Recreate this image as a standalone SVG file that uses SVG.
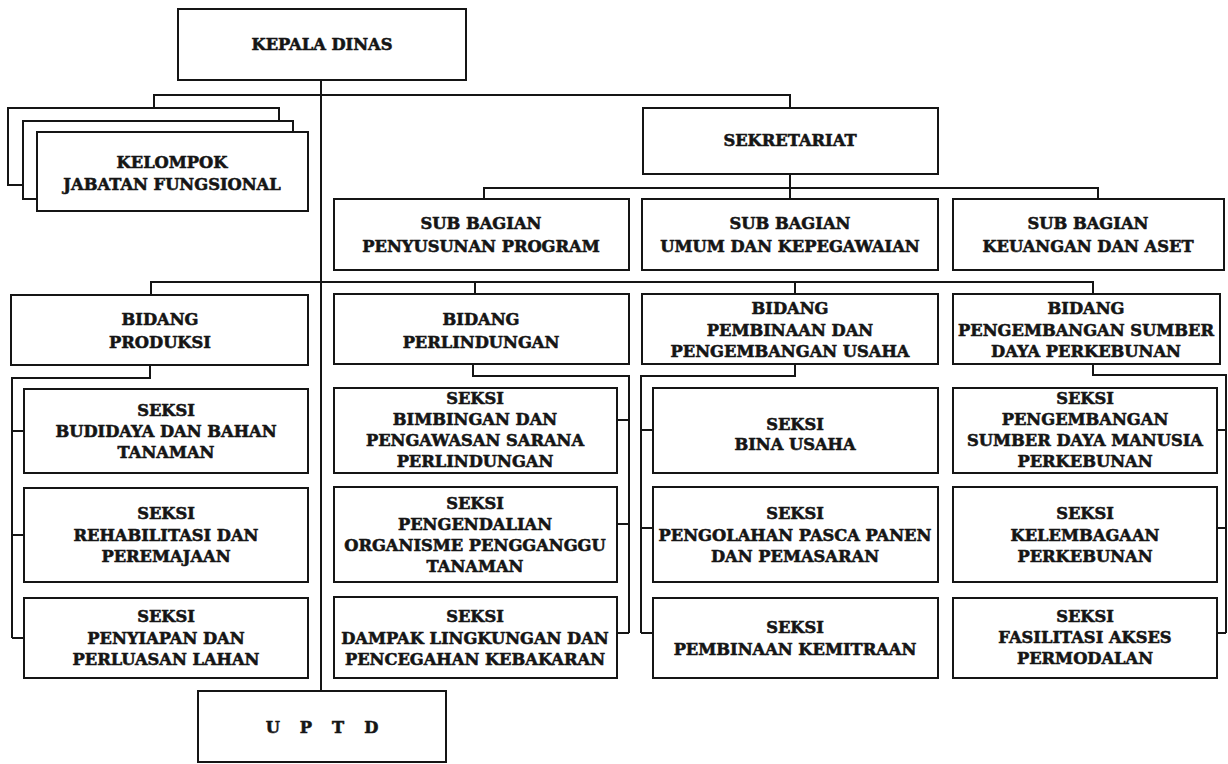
<svg xmlns="http://www.w3.org/2000/svg" width="1228" height="764" viewBox="0 0 1228 764">
<style>
.b{fill:#fff;stroke:#151515;stroke-width:2}
.c{fill:none;stroke:#151515;stroke-width:2}
.t{font-family:"DejaVu Serif","Liberation Serif",serif;font-weight:bold;font-size:16.3px;text-anchor:middle;fill:#151515;stroke:#151515;stroke-width:0.6px}
</style>
<rect width="1228" height="764" fill="#fff"/>
<g id="connectors">
<path class="c" d="M321 80V691"/>
<path class="c" d="M154 108V95H790V108"/>
<path class="c" d="M790 174V188M484 199V188H1098V199M790 188V200"/>
<path class="c" d="M151 295V282H1093V294M475 282V294M795 282V294"/>
<path class="c" d="M150 365V378H12V638M12 431H24M12 535H24M12 638H24"/>
<path class="c" d="M473 364V376H629V633M617 420H629M617 524H629M617 633H629"/>
<path class="c" d="M795 364V376H641V633M641 430H653M641 528H653M641 633H653"/>
<path class="c" d="M1093 364V375H1226V633M1217 430H1226M1217 528H1226M1217 633H1226"/>
</g>
<g id="kepala"><rect class="b" x="178" y="9" width="288" height="71"/><text class="t" x="322" y="50">KEPALA DINAS</text></g>
<g id="kelompok">
<rect class="b" x="8" y="108" width="271" height="77"/>
<rect class="b" x="23" y="121" width="270" height="78"/>
<rect class="b" x="37" y="132" width="271" height="79"/>
<text class="t" x="172" y="168">KELOMPOK</text><text class="t" x="172" y="190">JABATAN FUNGSIONAL</text>
</g>
<g id="sekretariat"><rect class="b" x="643" y="108" width="295" height="66"/><text class="t" x="790" y="146">SEKRETARIAT</text></g>
<g id="sub-program"><rect class="b" x="334" y="199" width="295" height="71"/><text class="t" x="481" y="229">SUB BAGIAN</text><text class="t" x="481" y="252">PENYUSUNAN PROGRAM</text></g>
<g id="sub-umum"><rect class="b" x="642" y="199" width="296" height="71"/><text class="t" x="790" y="229">SUB BAGIAN</text><text class="t" x="790" y="252">UMUM DAN KEPEGAWAIAN</text></g>
<g id="sub-keuangan"><rect class="b" x="953" y="199" width="271" height="71"/><text class="t" x="1088" y="229">SUB BAGIAN</text><text class="t" x="1088" y="252">KEUANGAN DAN ASET</text></g>
<g id="bidang-produksi"><rect class="b" x="11" y="295" width="297" height="70"/><text class="t" x="160" y="325">BIDANG</text><text class="t" x="160" y="348">PRODUKSI</text></g>
<g id="bidang-perlindungan"><rect class="b" x="334" y="294" width="295" height="70"/><text class="t" x="481" y="325">BIDANG</text><text class="t" x="481" y="348">PERLINDUNGAN</text></g>
<g id="bidang-pembinaan"><rect class="b" x="642" y="294" width="296" height="70"/><text class="t" x="790" y="314">BIDANG</text><text class="t" x="790" y="336">PEMBINAAN DAN</text><text class="t" x="790" y="357">PENGEMBANGAN  USAHA</text></g>
<g id="bidang-pengembangan"><rect class="b" x="953" y="294" width="267" height="70"/><text class="t" x="1086" y="314">BIDANG</text><text class="t" x="1086" y="336">PENGEMBANGAN SUMBER</text><text class="t" x="1086" y="357">DAYA PERKEBUNAN</text></g>
<g id="seksi-budidaya"><rect class="b" x="24" y="389" width="284" height="84"/><text class="t" x="166" y="416">SEKSI</text><text class="t" x="166" y="437">BUDIDAYA DAN BAHAN</text><text class="t" x="166" y="458">TANAMAN</text></g>
<g id="seksi-rehabilitasi"><rect class="b" x="24" y="488" width="284" height="94"/><text class="t" x="166" y="519">SEKSI</text><text class="t" x="166" y="541">REHABILITASI DAN</text><text class="t" x="166" y="562">PEREMAJAAN</text></g>
<g id="seksi-penyiapan"><rect class="b" x="24" y="598" width="284" height="80"/><text class="t" x="166" y="622">SEKSI</text><text class="t" x="166" y="644">PENYIAPAN DAN</text><text class="t" x="166" y="665">PERLUASAN LAHAN</text></g>
<g id="seksi-bimbingan"><rect class="b" x="334" y="388" width="283" height="85"/><text class="t" x="475" y="404">SEKSI</text><text class="t" x="475" y="425">BIMBINGAN DAN</text><text class="t" x="475" y="446">PENGAWASAN SARANA</text><text class="t" x="475" y="467">PERLINDUNGAN</text></g>
<g id="seksi-pengendalian"><rect class="b" x="334" y="487" width="283" height="95"/><text class="t" x="475" y="509">SEKSI</text><text class="t" x="475" y="530">PENGENDALIAN</text><text class="t" x="475" y="551">ORGANISME PENGGANGGU</text><text class="t" x="475" y="572">TANAMAN</text></g>
<g id="seksi-dampak"><rect class="b" x="334" y="597" width="283" height="81"/><text class="t" x="475" y="622">SEKSI</text><text class="t" x="475" y="644">DAMPAK LINGKUNGAN DAN</text><text class="t" x="475" y="665">PENCEGAHAN KEBAKARAN</text></g>
<g id="seksi-bina-usaha"><rect class="b" x="653" y="388" width="285" height="85"/><text class="t" x="795" y="430">SEKSI</text><text class="t" x="795" y="450">BINA USAHA</text></g>
<g id="seksi-pengolahan"><rect class="b" x="653" y="487" width="285" height="95"/><text class="t" x="795" y="519">SEKSI</text><text class="t" x="795" y="541">PENGOLAHAN PASCA PANEN</text><text class="t" x="795" y="562">DAN PEMASARAN</text></g>
<g id="seksi-kemitraan"><rect class="b" x="653" y="598" width="285" height="80"/><text class="t" x="795" y="633">SEKSI</text><text class="t" x="795" y="655">PEMBINAAN KEMITRAAN</text></g>
<g id="seksi-sdm"><rect class="b" x="953" y="388" width="264" height="85"/><text class="t" x="1085" y="404">SEKSI</text><text class="t" x="1085" y="425">PENGEMBANGAN</text><text class="t" x="1085" y="446">SUMBER DAYA MANUSIA</text><text class="t" x="1085" y="467">PERKEBUNAN</text></g>
<g id="seksi-kelembagaan"><rect class="b" x="953" y="487" width="264" height="95"/><text class="t" x="1085" y="519">SEKSI</text><text class="t" x="1085" y="541">KELEMBAGAAN</text><text class="t" x="1085" y="562">PERKEBUNAN</text></g>
<g id="seksi-fasilitasi"><rect class="b" x="953" y="598" width="264" height="80"/><text class="t" x="1085" y="622">SEKSI</text><text class="t" x="1085" y="643">FASILITASI AKSES</text><text class="t" x="1085" y="664">PERMODALAN</text></g>
<g id="uptd"><rect class="b" x="198" y="691" width="248" height="71"/><text class="t" x="332" y="733" style="letter-spacing:20px">UPTD</text></g>
</svg>
